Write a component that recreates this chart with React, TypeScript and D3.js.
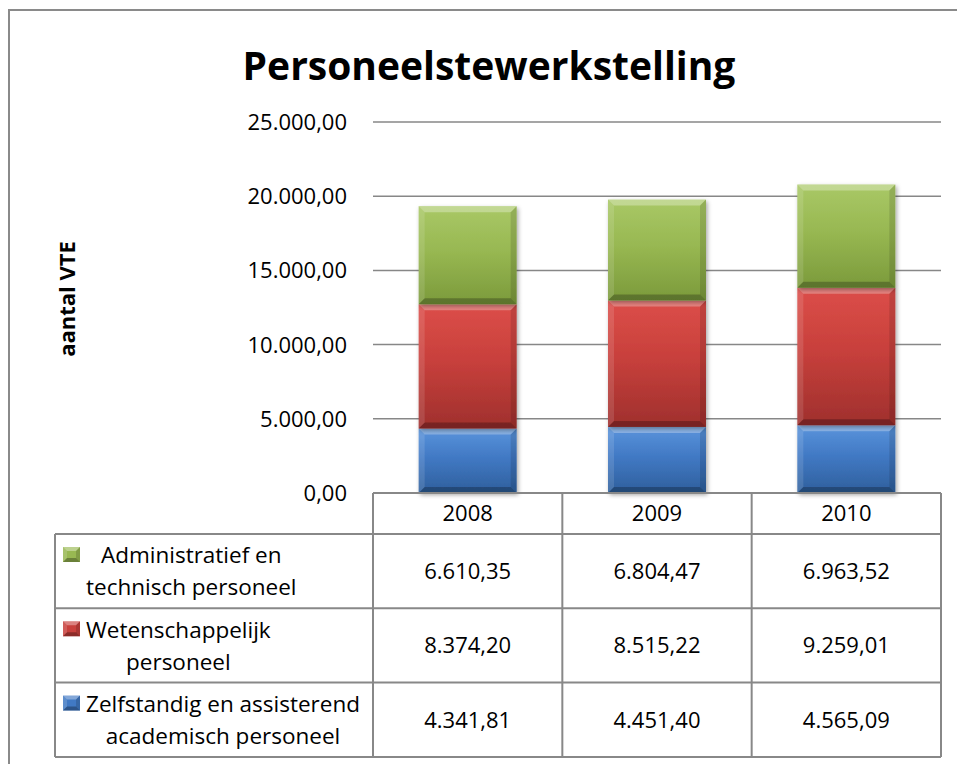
import React, { useEffect, useRef } from "react";
import * as d3 from "d3";

const categories = ["2008", "2009", "2010"];
const legendLines = [
  ["Zelfstandig en assisterend", "academisch personeel"],
  ["Wetenschappelijk", "personeel"],
  ["Administratief en", "technisch personeel"],
];
const zapValues = [4341.81, 4451.4, 4565.09];
const wpValues = [8374.2, 8515.22, 9259.01];
const atpValues = [6610.35, 6804.47, 6963.52];
const yTicks = [0, 5000, 10000, 15000, 20000, 25000];

const colors = ["#4179c4", "#c8403c", "#98b852"];
const colorsLight = ["#5a94dc", "#dc4e49", "#a9c866"];
const colorsDark = ["#2f5f9c", "#9f302d", "#7b9a3b"];

const FONT = "'Open Sans', 'Noto Sans', sans-serif";

export default function App() {
  const ref = useRef<SVGSVGElement | null>(null);

  useEffect(() => {
    const svg = d3.select(ref.current);
    svg.selectAll("*").remove();
    const W = 957, H = 764;
    const plotL = 373, plotR = 941, plotT = 122, plotB = 493;
    const tableL = 55;
    const headerB = 534;
    const rowH = 74.3;

    const loc = d3.formatLocale({ decimal: ",", thousands: ".", grouping: [3], currency: ["€", ""] });
    const fmt = loc.format(",.2f");

    const values = [zapValues, wpValues, atpValues];

    const x = d3.scaleBand().domain(categories).range([plotL, plotR]).paddingInner(0).paddingOuter(0);
    const y = d3.scaleLinear().domain([0, 25000]).range([plotB, plotT]);

    const defs = svg.append("defs");
    const f = defs.append("filter").attr("id", "shadow").attr("x", "-20%").attr("y", "-20%").attr("width", "140%").attr("height", "140%");
    f.append("feDropShadow").attr("dx", 1.5).attr("dy", 2).attr("stdDeviation", 2).attr("flood-color", "#000").attr("flood-opacity", 0.35);
    colors.forEach((c, i) => {
      const g = defs.append("linearGradient").attr("id", `grad${i}`).attr("x1", 0).attr("y1", 0).attr("x2", 0).attr("y2", 1);
      g.append("stop").attr("offset", "0%").attr("stop-color", colorsLight[i]);
      g.append("stop").attr("offset", "45%").attr("stop-color", c);
      g.append("stop").attr("offset", "100%").attr("stop-color", colorsDark[i]);
    });

    svg.append("rect").attr("width", W).attr("height", H).attr("fill", "#fff");

    // outer border
    svg.append("rect").attr("x", 9).attr("y", 10).attr("width", W + 20).attr("height", H + 20)
      .attr("fill", "none").attr("stroke", "#8a8a8a").attr("stroke-width", 2);

    // title
    svg.append("text").attr("x", 489).attr("y", 80).attr("text-anchor", "middle")
      .attr("font-family", FONT).attr("font-weight", 700).attr("font-size", 39).attr("fill", "#000")
      .text("Personeelstewerkstelling");

    // y-axis title
    svg.append("text").attr("transform", `translate(75,299) rotate(-90)`).attr("text-anchor", "middle")
      .attr("font-family", FONT).attr("font-weight", 700).attr("font-size", 22).attr("fill", "#000")
      .text("aantal VTE");

    // gridlines
    svg.append("g").selectAll("line").data(yTicks.filter((t) => t > 0)).join("line")
      .attr("x1", plotL).attr("x2", plotR).attr("y1", (d) => y(d)).attr("y2", (d) => y(d))
      .attr("stroke", "#878787").attr("stroke-width", 1.5);

    // tick labels
    svg.append("g").selectAll("text").data(yTicks).join("text")
      .attr("x", 347).attr("y", (d) => y(d)).attr("dy", "0.36em").attr("text-anchor", "end")
      .attr("font-family", FONT).attr("font-size", 22).attr("fill", "#000")
      .text((d) => fmt(d));

    // bars
    const barW = 98;
    const bev = 6;
    const barG = svg.append("g");
    categories.forEach((cat, ci) => {
      let cum = 0;
      const cx = (x(cat) as number) + x.bandwidth() / 2;
      const bx = cx - barW / 2;
      values.forEach((arr, si) => {
        const v0 = cum;
        const v1 = cum + arr[ci];
        cum = v1;
        const yt = y(v1), yb = y(v0);
        const h = yb - yt;
        const g = barG.append("g").attr("filter", "url(#shadow)");
        g.append("rect").attr("x", bx).attr("y", yt).attr("width", barW).attr("height", h).attr("fill", `url(#grad${si})`);
        const poly = (pts: number[][], fill: string, op: number) =>
          g.append("polygon").attr("points", pts.map((p) => p.join(",")).join(" ")).attr("fill", fill).attr("opacity", op);
        poly([[bx, yt], [bx + barW, yt], [bx + barW - bev, yt + bev], [bx + bev, yt + bev]], "#fff", 0.3);
        poly([[bx, yt], [bx + bev, yt + bev], [bx + bev, yb - bev], [bx, yb]], "#fff", 0.12);
        poly([[bx + barW, yt], [bx + barW, yb], [bx + barW - bev, yb - bev], [bx + barW - bev, yt + bev]], "#000", 0.12);
        poly([[bx, yb], [bx + bev, yb - bev], [bx + barW - bev, yb - bev], [bx + barW, yb]], "#000", 0.25);
      });
    });

    // x axis line & table
    const tbl = svg.append("g").attr("stroke", "#888").attr("stroke-width", 2).attr("fill", "none");
    tbl.append("line").attr("x1", plotL).attr("x2", plotR).attr("y1", plotB).attr("y2", plotB);
    const colEdges = [plotL, ...categories.map((c) => (x(c) as number) + x.bandwidth())];
    const tableB = headerB + rowH * 3;
    colEdges.forEach((cx) => {
      tbl.append("line").attr("x1", cx).attr("x2", cx).attr("y1", plotB).attr("y2", tableB);
    });
    tbl.append("line").attr("x1", tableL).attr("x2", tableL).attr("y1", headerB).attr("y2", tableB);
    for (let r = 0; r <= 3; r++) {
      const yy = headerB + r * rowH;
      tbl.append("line").attr("x1", tableL).attr("x2", plotR).attr("y1", yy).attr("y2", yy);
    }

    // year headers
    svg.append("g").selectAll("text").data(categories).join("text")
      .attr("x", (d) => (x(d) as number) + x.bandwidth() / 2).attr("y", (plotB + headerB) / 2).attr("dy", "0.36em")
      .attr("text-anchor", "middle").attr("font-family", FONT).attr("font-size", 22).attr("fill", "#000")
      .text((d) => d);

    // rows: top row = ATP, then WP, then ZAP
    const rowOrder = [2, 1, 0];
    rowOrder.forEach((si, ri) => {
      const rt = headerB + ri * rowH;
      const rc = rt + rowH / 2;
      const mx = 63, my = rt + 13, mw = 17, mh = 15;
      const mg = svg.append("g");
      mg.append("rect").attr("x", mx).attr("y", my).attr("width", mw).attr("height", mh).attr("fill", colors[si]);
      const mb = 4;
      const mp = (pts: number[][], fill: string, op: number) =>
        mg.append("polygon").attr("points", pts.map((p) => p.join(",")).join(" ")).attr("fill", fill).attr("opacity", op);
      mp([[mx, my], [mx + mw, my], [mx + mw - mb, my + mb], [mx + mb, my + mb]], "#fff", 0.35);
      mp([[mx, my], [mx + mb, my + mb], [mx + mb, my + mh - mb], [mx, my + mh]], "#fff", 0.15);
      mp([[mx + mw, my], [mx + mw, my + mh], [mx + mw - mb, my + mh - mb], [mx + mw - mb, my + mb]], "#000", 0.15);
      mp([[mx, my + mh], [mx + mb, my + mh - mb], [mx + mw - mb, my + mh - mb], [mx + mw, my + mh]], "#000", 0.3);

      const lines = legendLines[si];
      const tg = svg.append("g");
      const texts = lines.map((ln, li) =>
        tg.append("text").attr("y", rc - 16 + li * 32).attr("dy", "0.36em").attr("text-anchor", "middle")
          .attr("font-family", FONT).attr("font-size", 22.5).attr("fill", "#000").text(ln)
      );
      const widths = texts.map((t) => (t.node() as SVGTextElement).getComputedTextLength());
      const maxW = Math.max(...widths);
      const center = 86 + maxW / 2;
      texts.forEach((t) => t.attr("x", center));

      categories.forEach((cat, ci) => {
        svg.append("text").attr("x", (x(cat) as number) + x.bandwidth() / 2).attr("y", rc).attr("dy", "0.36em")
          .attr("text-anchor", "middle").attr("font-family", FONT).attr("font-size", 22).attr("fill", "#000")
          .text(fmt(values[si][ci]));
      });
    });
  }, []);

  return (
    <svg ref={ref} width={957} height={764} style={{ position: "absolute", left: 0, top: 0, display: "block" }} />
  );
}
